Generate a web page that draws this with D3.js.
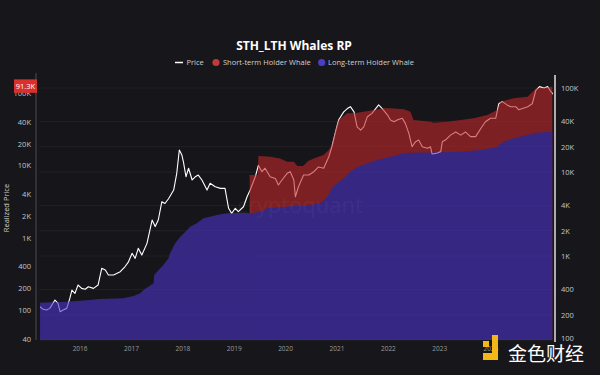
<!DOCTYPE html>
<html>
<head>
<meta charset="utf-8">
<script src="https://cdn.jsdelivr.net/npm/d3@7"></script>
<style>
  html, body { margin: 0; padding: 0; background: #17171b; }
  svg { display: block; }
</style>
</head>
<body>
<div id="chart"></div>
<script>
(function () {
  // [decimal year, value]
  const PRICE = [
    [2015.23,249],[2015.29,232],[2015.36,228],[2015.42,238],[2015.52,299],[2015.58,273],[2015.62,217],
    [2015.68,228],[2015.75,238],[2015.81,313],[2015.85,393],[2015.91,359],[2015.97,452],[2016.04,412],
    [2016.11,402],[2016.17,431],[2016.27,412],[2016.36,452],[2016.43,714],[2016.50,681],[2016.56,595],
    [2016.66,595],[2016.79,650],[2016.88,744],[2016.95,853],[2017.02,1078],[2017.08,938],[2017.14,1233],
    [2017.21,1026],[2017.31,1415],[2017.41,2683],[2017.47,2240],[2017.53,2683],[2017.60,4432],[2017.66,4220],
    [2017.73,4812],[2017.83,6100],[2017.89,9660],[2017.94,18300],[2017.99,15900],[2018.02,13200],[2018.07,8780],
    [2018.12,11100],[2018.19,8040],[2018.25,8780],[2018.31,9200],[2018.38,8040],[2018.48,6100],[2018.54,7340],
    [2018.64,6680],[2018.74,6390],[2018.83,6390],[2018.90,3700],[2018.96,3220],[2019.03,3700],[2019.09,3370],
    [2019.19,3860],[2019.26,5080],[2019.32,6100],[2019.42,8780],[2019.48,12000],[2019.55,10100],[2019.61,11100],
    [2019.71,8780],[2019.81,8390],[2019.87,7000],[2019.94,8040],[2020.04,9660],[2020.10,10100],[2020.17,8040],
    [2020.20,5080],[2020.26,6680],[2020.36,9200],[2020.46,9200],[2020.56,10100],[2020.65,11500],[2020.75,11100],
    [2020.85,15200],[2020.91,20000],[2020.98,30000],[2021.04,41600],[2021.14,52000],[2021.21,57000],[2021.27,60000],
    [2021.34,52000],[2021.40,34500],[2021.47,31600],[2021.53,34500],[2021.60,45600],[2021.69,50000],[2021.82,63000],
    [2021.89,57000],[2021.99,48000],[2022.05,41600],[2022.12,39700],[2022.18,41600],[2022.28,43600],[2022.34,38000],
    [2022.41,28700],[2022.47,20000],[2022.54,23000],[2022.60,24000],[2022.67,20000],[2022.77,19200],[2022.83,20000],
    [2022.86,16400],[2022.96,16800],[2023.03,17500],[2023.06,23000],[2023.12,24000],[2023.22,27500],[2023.32,30000],
    [2023.42,27500],[2023.51,30000],[2023.61,26400],[2023.71,26400],[2023.81,33000],[2023.90,39700],[2024.00,43600],
    [2024.10,43600],[2024.16,65000],[2024.23,69000],[2024.32,63000],[2024.39,60000],[2024.49,60000],[2024.55,55000],
    [2024.65,58000],[2024.72,60000],[2024.81,65000],[2024.88,94000],[2024.95,104000],[2025.04,100000],[2025.11,104000],
    [2025.17,91000],[2025.22,84000]
  ];

  const LTH_WHALE_RP = [
    [2015.23,126],[2015.75,130],[2016.14,137],[2016.40,142],[2016.85,145],[2017.05,156],[2017.18,170],
    [2017.24,189],[2017.44,234],[2017.45,305],[2017.57,377],[2017.63,419],[2017.73,519],[2017.76,608],
    [2017.86,837],[2017.96,1033],[2018.06,1211],[2018.15,1420],[2018.28,1582],[2018.41,1854],[2018.54,1950],
    [2018.67,2060],[2018.87,2173],[2019.13,2217],[2019.32,2173],[2019.52,2290],[2019.65,2553],[2019.91,2630],
    [2020.17,2742],[2020.49,2832],[2020.69,2990],[2020.82,3690],[2020.91,4820],[2021.01,5650],[2021.14,6630],
    [2021.27,8190],[2021.40,9420],[2021.60,10700],[2021.79,11900],[2022.05,13200],[2022.25,14400],[2022.44,15000],
    [2022.83,15100],[2023.42,15500],[2023.81,16300],[2024.13,18100],[2024.26,21300],[2024.45,23700],[2024.72,26300],
    [2024.88,28300],[2025.20,29200]
  ];

  const STH_WHALE_RP = [
    [2019.31,7370],[2019.47,7370],[2019.48,13500],[2019.71,13200],[2019.90,12500],[2020.04,11200],[2020.17,11200],
    [2020.24,9810],[2020.35,9810],[2020.45,11500],[2020.56,12500],[2020.75,13900],[2020.85,16300],[2020.91,19100],
    [2020.98,30900],[2021.04,42500],[2021.21,52600],[2021.34,52600],[2021.53,55300],[2021.73,58400],[2021.92,61600],
    [2022.05,61600],[2022.31,59700],[2022.44,55300],[2022.50,42500],[2022.83,40200],[2022.89,38900],[2023.16,40200],
    [2023.42,42500],[2023.67,44800],[2023.94,49800],[2024.13,58400],[2024.19,76000],[2024.45,84700],[2024.72,89100],
    [2024.88,116000],[2025.20,122700]
  ];

  const LEFT_TICKS = [40, 100, 200, 400, 1000, 2000, 4000, 10000, 20000, 40000, 100000];
  const LEFT_LABELS = ["40", "100", "200", "400", "1K", "2K", "4K", "10K", "20K", "40K", "100K"];
  const RIGHT_TICKS = [100, 200, 400, 1000, 2000, 4000, 10000, 20000, 40000, 100000];
  const RIGHT_LABELS = ["100", "200", "400", "1K", "2K", "4K", "10K", "20K", "40K", "100K"];
  const YEARS = [2016, 2017, 2018, 2019, 2020, 2021, 2022, 2023, 2024];
  const LAST_PRICE = 91300;
  const LAST_LABEL = "91.3K";

  const FONT = "'Open Sans', 'Noto Sans', sans-serif";

  function yearToDate(t) {
    const y = Math.floor(t);
    const a = Date.UTC(y, 0, 1), b = Date.UTC(y + 1, 0, 1);
    return new Date(a + (t - y) * (b - a));
  }

  const W = 600, H = 375;
  const plot = { left: 39.5, right: 553, top: 75, bottom: 340 };

  const svg = d3.select("#chart").append("svg")
    .attr("width", W)
    .attr("height", H)
    .style("background", "#17171b");

  const x = d3.scaleUtc()
    .domain([new Date(Date.UTC(2015, 2, 22)), new Date(Date.UTC(2025, 2, 20))])
    .range([plot.left, plot.right]);

  const yLeft = d3.scaleLog().domain([38.5, 178000]).range([plot.bottom, plot.top]);
  const yRight = d3.scaleLog().domain([100, 143000]).range([plot.bottom, plot.top]);

  svg.append("defs").append("clipPath").attr("id", "plotClip")
    .append("rect")
    .attr("x", plot.left).attr("y", plot.top)
    .attr("width", plot.right - plot.left).attr("height", plot.bottom - plot.top);

  // grid (follows right axis)
  svg.append("g")
    .selectAll("line")
    .data(RIGHT_TICKS)
    .join("line")
    .attr("x1", plot.left).attr("x2", plot.right)
    .attr("y1", d => yRight(d)).attr("y2", d => yRight(d))
    .attr("stroke", "#24242a")
    .attr("stroke-width", 0.8);

  const body = svg.append("g").attr("clip-path", "url(#plotClip)");

  // price line goes under the areas so it gets tinted
  const priceLine = d3.line()
    .x(d => x(yearToDate(d[0])))
    .y(d => yRight(d[1]));

  body.append("path")
    .datum(PRICE)
    .attr("fill", "none")
    .attr("stroke", "#ffffff")
    .attr("stroke-width", 1.1)
    .attr("stroke-linejoin", "round")
    .attr("d", priceLine);

  const area = d3.area()
    .x(d => x(yearToDate(d[0])))
    .y0(plot.bottom)
    .y1(d => yLeft(d[1]));

  const areas = body.append("g").attr("opacity", 0.6);
  areas.append("path")
    .datum(STH_WHALE_RP)
    .attr("fill", "#c2272a")
    .attr("d", area);
  areas.append("path")
    .datum(LTH_WHALE_RP)
    .attr("fill", "#4a33c8")
    .attr("d", area);

  // faint watermark
  svg.append("text")
    .attr("x", 300).attr("y", 213)
    .attr("text-anchor", "middle")
    .attr("font-family", FONT)
    .attr("font-size", 22)
    .attr("fill", "#ffffff")
    .attr("opacity", 0.035)
    .text("cryptoquant");

  // left axis
  const gl = svg.append("g")
    .attr("transform", "translate(36,0)")
    .call(d3.axisLeft(yLeft).tickValues(LEFT_TICKS).tickFormat((d, i) => LEFT_LABELS[i]).tickSize(0).tickPadding(5));
  gl.select(".domain").attr("stroke", "#4a4a50").attr("d", `M0,${plot.bottom}V73`);
  gl.selectAll("text").attr("fill", "#c4c4c4").attr("font-size", 7.5).attr("font-family", FONT);

  // right axis
  const gr = svg.append("g")
    .attr("transform", "translate(555,0)")
    .call(d3.axisRight(yRight).tickValues(RIGHT_TICKS).tickFormat((d, i) => RIGHT_LABELS[i]).tickSize(0).tickPadding(6));
  gr.select(".domain").attr("stroke", "#e0e0e0").attr("stroke-width", 1.5).attr("d", `M0,${plot.bottom + 2}V75`);
  gr.selectAll("text").attr("fill", "#c4c4c4").attr("font-size", 7.5).attr("font-family", FONT);
  gr.selectAll(".tick").filter(d => d === 100).select("text").attr("dy", "0.1em");

  // x axis
  const gx = svg.append("g")
    .attr("transform", `translate(0,${plot.bottom})`)
    .call(d3.axisBottom(x).tickValues(YEARS.map(y => new Date(Date.UTC(y, 0, 1)))).tickFormat(d3.utcFormat("%Y")).tickSize(0).tickPadding(6));
  gx.select(".domain").remove();
  gx.selectAll("text").attr("fill", "#9a9a9a").attr("font-size", 6.5).attr("font-family", FONT);

  // y title
  svg.append("text")
    .attr("transform", "translate(9,208) rotate(-90)")
    .attr("text-anchor", "middle")
    .attr("font-family", FONT)
    .attr("font-size", 7.5)
    .attr("fill", "#cfcfcf")
    .text("Realized Price");

  // last price tag (sits over the 100K label, like the original)
  const tagY = yRight(LAST_PRICE) - 5;
  svg.append("rect")
    .attr("x", 14).attr("y", tagY - 7)
    .attr("width", 23).attr("height", 13.5)
    .attr("fill", "#d8302c");
  svg.append("text")
    .attr("x", 25.5).attr("y", tagY + 2.8)
    .attr("text-anchor", "middle")
    .attr("font-family", FONT)
    .attr("font-size", 7.5)
    .attr("fill", "#ffffff")
    .text(LAST_LABEL);

  // title
  svg.append("text")
    .attr("x", 294).attr("y", 50)
    .attr("text-anchor", "middle")
    .attr("font-family", FONT)
    .attr("font-weight", 700)
    .attr("font-size", 12)
    .attr("fill", "#ffffff")
    .text("STH_LTH Whales RP");

  // legend
  const lg = svg.append("g").attr("font-family", FONT).attr("font-size", 7.5).attr("fill", "#d0d0d0");
  lg.append("line").attr("x1", 175).attr("x2", 183).attr("y1", 62.5).attr("y2", 62.5)
    .attr("stroke", "#ffffff").attr("stroke-width", 1.5);
  lg.append("text").attr("x", 186.5).attr("y", 65).text("Price");
  lg.append("circle").attr("cx", 216).attr("cy", 62.5).attr("r", 3.6).attr("fill", "#c0393b");
  lg.append("text").attr("x", 223).attr("y", 65).text("Short-term Holder Whale");
  lg.append("circle").attr("cx", 321.7).attr("cy", 62.5).attr("r", 3.6).attr("fill", "#4b3ec4");
  lg.append("text").attr("x", 328).attr("y", 65).text("Long-term Holder Whale");

  // 金色财经 mark
  const logo = svg.append("g").attr("fill", "#f3b817");
  logo.append("rect").attr("x", 492).attr("y", 335).attr("width", 6).attr("height", 25);
  logo.append("rect").attr("x", 483).attr("y", 353).attr("width", 15).attr("height", 7);
  logo.append("rect").attr("x", 483).attr("y", 341).attr("width", 6).attr("height", 6);
  svg.append("text")
    .attr("x", 508).attr("y", 361)
    .attr("font-family", "'Noto Sans CJK SC', sans-serif")
    .attr("font-size", 19)
    .attr("fill", "#ffffff")
    .text("金色财经");
})();
</script>
</body>
</html>
